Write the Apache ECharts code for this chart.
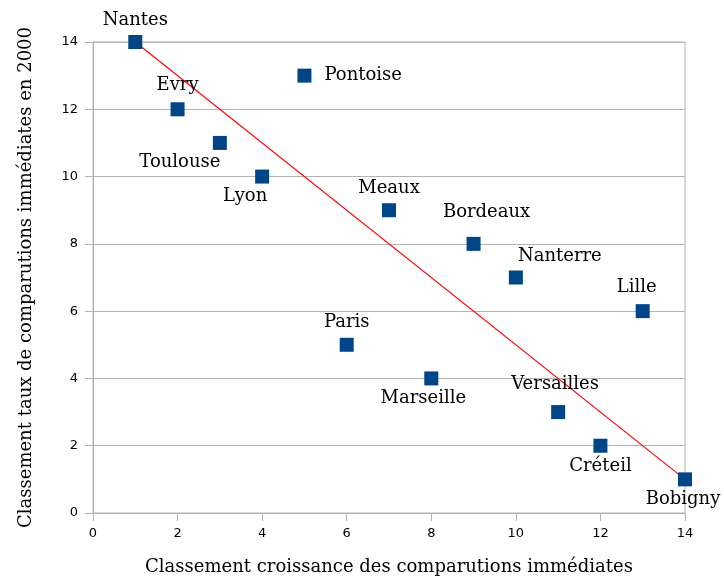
<!DOCTYPE html>
<html>
<head>
<meta charset="utf-8">
<script src="https://cdn.jsdelivr.net/npm/echarts@6/dist/echarts.min.js"></script>
<style>
  html, body { margin: 0; padding: 0; background: #fff; }
  #chart { width: 724px; height: 581px; }
</style>
</head>
<body>
<div id="chart"></div>
<script>
// villes et rangs
var cities = ['Nantes', 'Evry', 'Toulouse', 'Lyon', 'Pontoise', 'Paris', 'Meaux', 'Marseille', 'Bordeaux', 'Nanterre', 'Versailles', 'Créteil', 'Lille', 'Bobigny'];
var croissance = [1, 2, 3, 4, 5, 6, 7, 8, 9, 10, 11, 12, 13, 14];
var taux = [14, 12, 11, 10, 13, 5, 9, 4, 8, 7, 3, 2, 6, 1];
var trendX = [1, 14];
var trendY = [14, 1];
var xTicks = [0, 2, 4, 6, 8, 10, 12, 14];
var yTicks = [0, 2, 4, 6, 8, 10, 12, 14];

// placement des etiquettes
var labelPos = {
    'Nantes':     {position: 'top', distance: 6},
    'Evry':       {position: 'top', distance: 8},
    'Toulouse':   {position: 'bottom', distance: 3, offset: [-40, 0]},
    'Lyon':       {position: 'bottom', distance: 4, offset: [-17, 0]},
    'Pontoise':   {position: 'right', distance: 13},
    'Paris':      {position: 'top', distance: 6},
    'Meaux':      {position: 'top', distance: 6},
    'Marseille':  {position: 'bottom', distance: 4, offset: [-8, 0]},
    'Bordeaux':   {position: 'top', distance: 16, offset: [13, 0]},
    'Nanterre':   {position: 'top', distance: 5, offset: [44, 0]},
    'Versailles': {position: 'top', distance: 12, offset: [-3, 0]},
    'Créteil':    {position: 'bottom', distance: 5},
    'Lille':      {position: 'top', distance: 8, offset: [-6, 0]},
    'Bobigny':    {position: 'bottom', distance: 4, offset: [-2, 0]}
};

var points = cities.map(function (c, i) {
    var p = labelPos[c];
    return {
        name: c,
        value: [croissance[i], taux[i]],
        label: {position: p.position, distance: p.distance, offset: p.offset || [0, 0]}
    };
});

var gridColor = '#b3b3b3';
var serif = 'DejaVu Serif';

var option = {
    animation: false,
    grid: {left: 93, right: 39, top: 42, bottom: 68, show: true, borderColor: gridColor, borderWidth: 1},
    xAxis: {
        type: 'value',
        min: 0, max: 14, interval: 2,
        name: 'Classement croissance des comparutions immédiates',
        nameLocation: 'middle',
        nameGap: 45,
        nameTextStyle: {fontFamily: serif, fontSize: 18, color: '#000'},
        axisLine: {show: true, lineStyle: {color: gridColor}},
        axisTick: {show: true, length: 8, lineStyle: {color: gridColor}},
        axisLabel: {
            fontFamily: 'DejaVu Sans', fontSize: 13, color: '#000', margin: 14,
            formatter: function (v) { return xTicks.indexOf(v) >= 0 ? String(v) : ''; }
        },
        splitLine: {show: false}
    },
    yAxis: {
        type: 'value',
        min: 0, max: 14, interval: 2,
        name: 'Classement taux de comparutions immédiates en 2000',
        nameLocation: 'middle',
        nameGap: 58,
        nameTextStyle: {fontFamily: serif, fontSize: 18, color: '#000'},
        axisLine: {show: true, lineStyle: {color: gridColor}},
        axisTick: {show: true, length: 8, lineStyle: {color: gridColor}},
        axisLabel: {
            fontFamily: 'DejaVu Sans', fontSize: 13, color: '#000', margin: 15,
            formatter: function (v) { return yTicks.indexOf(v) >= 0 ? String(v) : ''; }
        },
        splitLine: {show: true, lineStyle: {color: gridColor, width: 1}}
    },
    series: [
        {
            type: 'line',
            data: trendX.map(function (x, i) { return [x, trendY[i]]; }),
            symbol: 'none',
            lineStyle: {color: '#ff0000', width: 1.2},
            z: 3
        },
        {
            type: 'scatter',
            data: points,
            symbol: 'rect',
            symbolSize: 14,
            itemStyle: {color: '#004586', opacity: 1},
            label: {
                show: true,
                formatter: '{b}',
                fontFamily: serif,
                fontSize: 18,
                color: '#000'
            },
            z: 4
        }
    ]
};

var myChart = echarts.init(document.getElementById('chart'));
myChart.setOption(option);
</script>
</body>
</html>
